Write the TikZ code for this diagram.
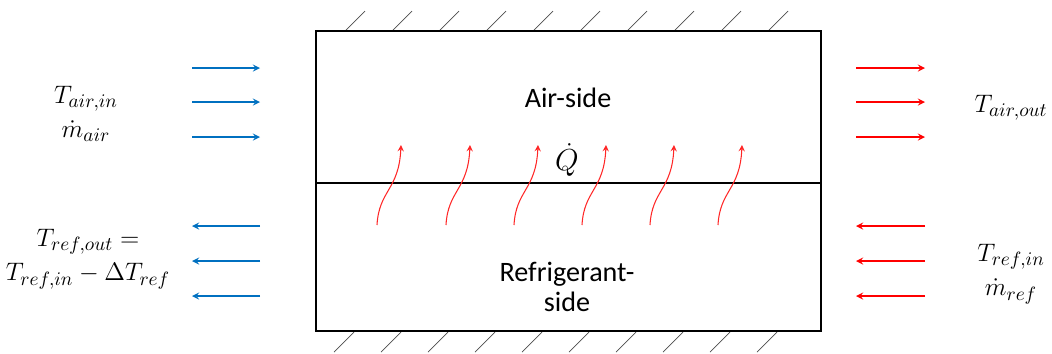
\documentclass[tikz,border=0pt]{standalone}
\usepackage{amsmath}
\usepackage{fontspec}
\setmainfont{Carlito}
\definecolor{airblue}{RGB}{0,112,192}
\newcommand{\wallhatch}[3][]{
  \begin{scope}[#1]
    \foreach \i in {0,...,9}
      \draw[gray!60!black](#2+47*\i,#3)--++(20,-20);
  \end{scope}
}

\begin{document}
\begin{tikzpicture}[>=stealth,x=0.02cm,y=-0.02cm,inner sep=0.5pt,font=\fontsize{15}{19.5}\selectfont]
  \useasboundingbox(0,0)rectangle(1052,353);
  % wall
  \wallhatch{345}{31}
  \wallhatch{334}{352}
  \draw[line width=1.3pt](316,31)rectangle(821,331);
  \draw[line width=1.3pt](316,183)--(821,183);
  % air and refrigerant streams
  \foreach \y in {68,102,137}{
    \draw[->,airblue,thick](192,\y)--(260,\y);
    \draw[->,red,thick](856,\y)--(925,\y);
  }
  \foreach \y in {226,261,296}{
    \draw[->,airblue,thick](260,\y)--(192,\y);
    \draw[->,red,thick](925,\y)--(856,\y);
  }
  % heat flow
  \foreach \x in {377,446,514,582,650,718}
    \draw[->,red!85,semithick](\x,225)..controls(\x+2,190)and(\x+22,190)..(\x+24,145);
  \node[font=\fontsize{16}{17.5}\selectfont](airside)at(568,98){Air-side};
  \node[font=\fontsize{16}{17.5}\selectfont,align=center](refside)at(567,287){Refrigerant-\\side};
  \node[font=\fontsize{17}{20}\selectfont](qdot)at(567,160){$\dot{Q}$};
  \node[align=center](airin)at(86,114){$T_{air,in}$\\$\dot{m}_{air}$};
  \node[align=center](refout)at(88,259){$T_{ref,out}=$\\$T_{ref,in}-\Delta T_{ref}$};
  \node(tairout)at(1011,108){$T_{air,out}$};
  \node[align=center](refin)at(1011,274){$T_{ref,in}$\\$\dot{m}_{ref}$};
\end{tikzpicture}
\end{document}
